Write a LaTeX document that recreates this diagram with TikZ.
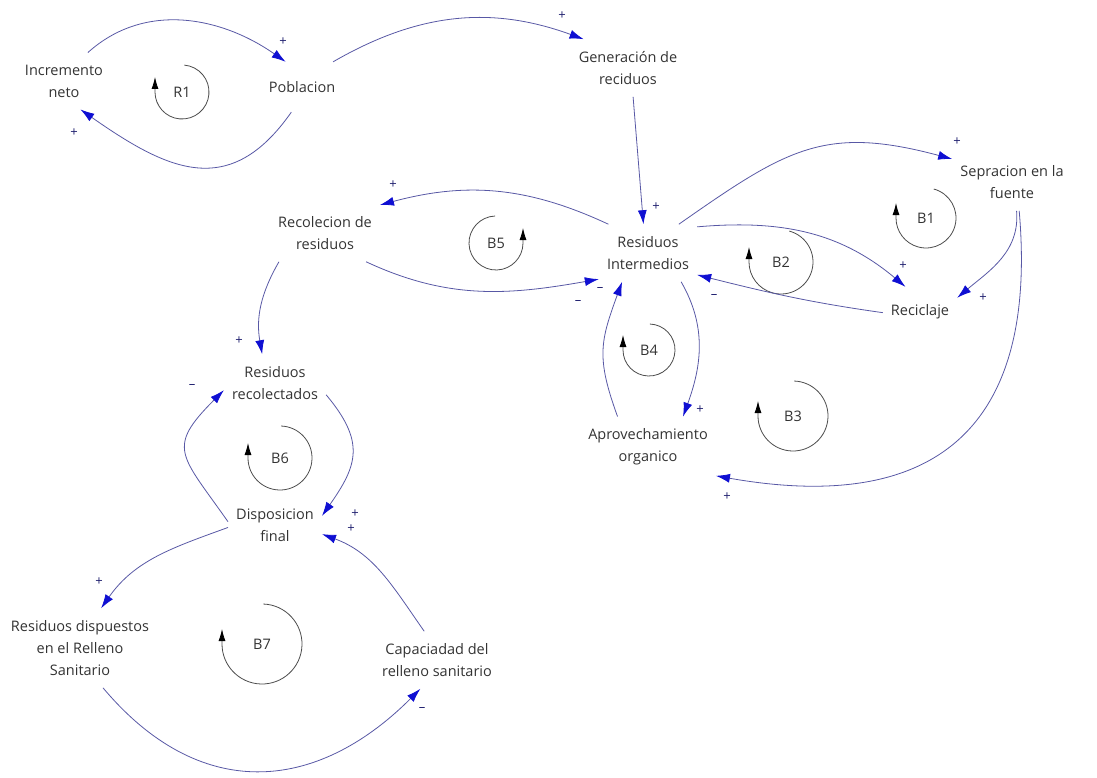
\documentclass[tikz,border=0pt]{standalone}
\usepackage{fontspec}
\setmainfont{Open Sans}
\usetikzlibrary{arrows.meta}
\definecolor{linkblue}{RGB}{88,88,165}
\definecolor{tipblue}{RGB}{15,15,210}
\definecolor{signblue}{RGB}{30,30,110}

\begin{document}
\begin{tikzpicture}[x=1pt, y=1pt]
    \tikzset{VarStyle/.style = {align=center, inner xsep=8pt, inner ysep=12pt,
                                text=black!80, font=\fontsize{14.5}{22}\selectfont}}
    \tikzset{OneLine/.style = {minimum height=50pt}}
    \tikzset{LinkStyle/.style = {draw=linkblue, line width=0.8pt,
                                 -{Latex[length=14pt, width=9pt, color=tipblue]}}}
    \tikzset{SignStyle/.style = {text=signblue, inner sep=0pt,
                                 font=\fontsize{13}{13}\selectfont}}
    \tikzset{LoopStyle/.style = {draw=black!70, line width=0.8pt,
                                 -{Latex[length=12pt, width=7pt, color=black]}}}
    \tikzset{LoopName/.style = {text=black!80, font=\fontsize{14.5}{16}\selectfont}}
    \useasboundingbox (0,0) rectangle (1097,-778);

    \node[VarStyle](inc) at (64,-81) {Incremento\\neto};
    \node[VarStyle, OneLine](pob) at (302,-87) {Poblacion};
    \node[VarStyle](gen) at (628,-68) {Generación de\\reciduos};
    \node[VarStyle](ri) at (648,-253) {Residuos\\Intermedios};
    \node[VarStyle](rec) at (325,-233) {Recolecion de\\residuos};
    \node[VarStyle](sep) at (1012,-182) {Sepracion en la\\fuente};
    \node[VarStyle, OneLine](recic) at (920,-312) {Reciclaje};
    \node[VarStyle](apr) at (648,-447) {Aprovechamiento\\organico};
    \node[VarStyle](resrec) at (275,-383) {Residuos\\recolectados};
    \node[VarStyle](disp) at (275,-525) {Disposicion\\final};
    \node[VarStyle](resdisp) at (80,-648) {Residuos dispuestos\\en el Relleno\\Sanitario};
    \node[VarStyle](cap) at (437,-660) {Capaciadad del\\relleno sanitario};

    \node[LoopName](R1) at (182,-92) {R1};
    \node[LoopName](B1) at (926,-218) {B1};
    \node[LoopName](B2) at (781,-262) {B2};
    \node[LoopName](B3) at (793,-416) {B3};
    \node[LoopName](B4) at (649,-350) {B4};
    \node[LoopName](B5) at (496,-243) {B5};
    \node[LoopName](B6) at (280,-458) {B6};
    \node[LoopName](B7) at (262,-644) {B7};

    \draw[LoopStyle](R1.center) ++(85:27pt) arc[start angle=85, end angle=-180, radius=27pt] -- ++(0,15);
    \draw[LoopStyle](B1.center) ++(75:30pt) arc[start angle=75, end angle=-180, radius=30pt] -- ++(0,15);
    \draw[LoopStyle](B2.center) ++(75:32pt) arc[start angle=75, end angle=-180, radius=32pt] -- ++(0,15);
    \draw[LoopStyle](B3.center) ++(88:35pt) arc[start angle=88, end angle=-180, radius=35pt] -- ++(0,15);
    \draw[LoopStyle](B4.center) ++(88:26pt) arc[start angle=88, end angle=-180, radius=26pt] -- ++(0,15);
    \draw[LoopStyle](B5.center) ++(92:27pt) arc[start angle=92, end angle=360, radius=27pt] -- ++(0,15);
    \draw[LoopStyle](B6.center) ++(88:32pt) arc[start angle=88, end angle=-180, radius=32pt] -- ++(0,15);
    \draw[LoopStyle](B7.center) ++(88:40pt) arc[start angle=88, end angle=-180, radius=40pt] -- ++(0,15);

    \draw[LinkStyle](inc.50) to[out=42, in=145] (pob.123);
    \draw[LinkStyle](pob.247) to[out=235, in=-35, looseness=1.3] (inc.300);
    \draw[LinkStyle](pob.39) to[out=30, in=160] (gen.147);
    \draw[LinkStyle](gen.-80) -- (ri.99);
    \draw[LinkStyle](ri.144) to[out=155, in=15] (rec.27);
    \draw[LinkStyle](rec.-35) to[out=-25, in=190] (ri.208);
    \draw[LinkStyle](ri.43) to[out=35, in=165, looseness=1.2] (sep.159);
    \draw[LinkStyle](ri.28) to[out=5, in=140] (recic.120);
    \draw[LinkStyle](recic.181) to[out=172, in=-14] (ri.-24);
    \draw[LinkStyle](sep.-81) to[out=-85, in=40] (recic.21);
    \draw[LinkStyle](sep.-76) to[out=-85, in=-10, looseness=1.4] (apr.-23);
    \draw[LinkStyle](ri.-41) to[out=-60, in=70] (apr.41);
    \draw[LinkStyle](apr.135) to[out=110, in=250, looseness=1.2] (ri.228);
    \draw[LinkStyle](rec.212) to[out=240, in=100] (resrec.114);
    \draw[LinkStyle](resrec.-13) to[out=-50, in=55, looseness=1.3] (disp.11);
    \draw[LinkStyle](disp.176) to[out=125, in=225, looseness=1.6] (resrec.188);
    \draw[LinkStyle](disp.183) to[out=200, in=55] (resdisp.62);
    \draw[LinkStyle](resdisp.-60) to[out=-50, in=225, looseness=1.2] (cap.240);
    \draw[LinkStyle](cap.114) to[out=125, in=-20] (disp.-11);

    \node[SignStyle](sIncPob) at (283,-42) {+};
    \node[SignStyle](sPobInc) at (74,-133) {+};
    \node[SignStyle](sPobGen) at (562,-16) {+};
    \node[SignStyle](sGenRi) at (656,-207) {+};
    \node[SignStyle](sRiRec) at (393,-185) {+};
    \node[SignStyle](sRecRi) at (578,-303) {–};
    \node[SignStyle](sAprRi) at (600,-290) {–};
    \node[SignStyle](sRiSep) at (957,-142) {+};
    \node[SignStyle](sRiRecic) at (903,-266) {+};
    \node[SignStyle](sRecicRi) at (714,-297) {–};
    \node[SignStyle](sSepRecic) at (983,-298) {+};
    \node[SignStyle](sSepApr) at (727,-497) {+};
    \node[SignStyle](sRiApr) at (700,-410) {+};
    \node[SignStyle](sRecResrec) at (239,-341) {+};
    \node[SignStyle](sResrecDisp) at (355,-514) {+};
    \node[SignStyle](sCapDisp) at (351,-529) {+};
    \node[SignStyle](sDispResrec) at (192,-387) {–};
    \node[SignStyle](sDispResdisp) at (99,-582) {+};
    \node[SignStyle](sResdispCap) at (422,-710) {–};
\end{tikzpicture}
\end{document}
